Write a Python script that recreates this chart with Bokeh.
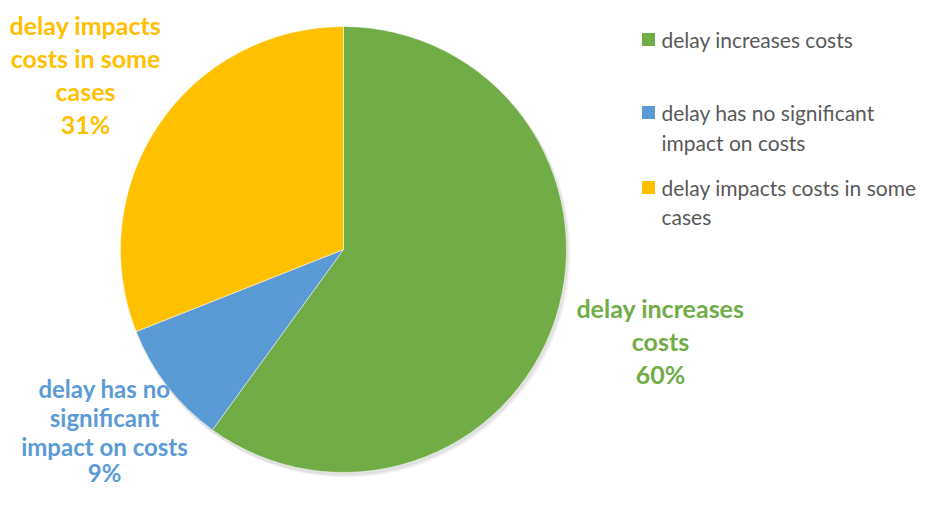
from bokeh.plotting import figure
from bokeh.models import Range1d
from bokeh.core.properties import value
from bokeh.embed import file_html
from bokeh.resources import INLINE
import numpy as np

# Data
categories = ["delay increases costs", "delay has no significant impact on costs", "delay impacts costs in some cases"]
shares = [60, 9, 31]
colors = ["#70AD47", "#5B9BD5", "#FFC000"]
legend_lines = [["delay increases costs"], ["delay has no significant", "impact on costs"], ["delay impacts costs in some", "cases"]]
label_lines = [["delay increases", "costs"], ["delay has no", "significant", "impact on costs"], ["delay impacts", "costs in some", "cases"]]

W, H = 917, 489
p = figure(width=W, height=H, output_backend="svg", toolbar_location=None,
           x_range=Range1d(0, W), y_range=Range1d(0, H), min_border=0)
p.axis.visible = False
p.grid.visible = False
p.outline_line_color = None
p.background_fill_color = "white"

FONT = value("Lato")
cx, cy, r = 343, 240, 223

# wedges clockwise from top
vals = np.array(shares, dtype=float)
frac = vals / vals.sum()
cum = np.concatenate([[0], np.cumsum(frac)])
starts = np.pi / 2 - cum[1:] * 2 * np.pi
ends = np.pi / 2 - cum[:-1] * 2 * np.pi

# soft shadow
for k, a in enumerate([0.05, 0.04, 0.03]):
    p.wedge(x=cx + 1 + k, y=cy - 2 - k, radius=r + 1, start_angle=0, end_angle=2 * np.pi,
            color="black", alpha=a, line_color=None)

p.wedge(x=cx, y=cy, radius=r, start_angle=list(starts), end_angle=list(ends),
        fill_color=colors, line_color="white", line_width=0.5)

# data labels
label_pos = [(660, [182, 149, 116], "25px"), (104, [101, 72, 43, 17], "24px"), (85, [465, 432, 399, 366], "25px")]
for i, (lx, ys, fs) in enumerate(label_pos):
    lines = label_lines[i] + [f"{shares[i]}%"]
    p.text(x=[lx] * len(lines), y=ys[:len(lines)], text=lines, text_align="center",
           text_baseline="middle", text_font=FONT, text_font_style="bold",
           text_font_size=fs, text_color=colors[i])

# legend
leg_y = [[450], [377, 347], [302, 273]]
for i in range(3):
    p.scatter(x=[648], y=[leg_y[i][0]], marker="square", size=13, fill_color=colors[i], line_color=None)
    p.text(x=[661] * len(legend_lines[i]), y=leg_y[i], text=legend_lines[i], text_align="left",
           text_baseline="middle", text_font=FONT, text_font_size="21px", text_color="#595959")

open("out.html", "w").write(file_html(p, INLINE))
